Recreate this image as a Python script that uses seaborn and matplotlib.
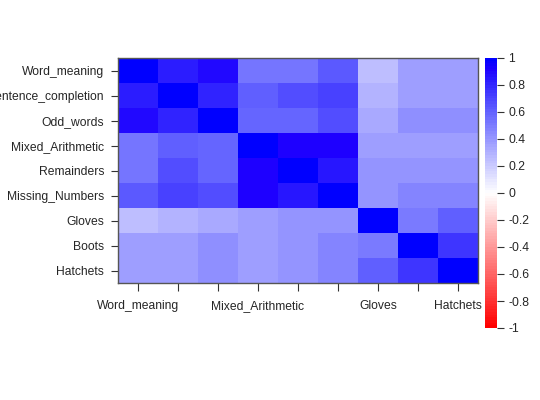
import numpy as np
import pandas as pd
import matplotlib
matplotlib.use("Agg")
import matplotlib.pyplot as plt
import matplotlib.transforms as mtransforms
import seaborn as sns
from matplotlib.colors import LinearSegmentedColormap

# variable names (rows and columns of the correlation matrix)
variables = ["Word_meaning", "Sentence_completion", "Odd_words",
             "Mixed_Arithmetic", "Remainders", "Missing_Numbers",
             "Gloves", "Boots", "Hatchets"]

# correlations, one row per variable
word_meaning        = [1.00, 0.83, 0.88, 0.53, 0.53, 0.62, 0.24, 0.37, 0.37]
sentence_completion = [0.83, 1.00, 0.80, 0.60, 0.66, 0.70, 0.28, 0.37, 0.37]
odd_words           = [0.88, 0.80, 1.00, 0.58, 0.58, 0.66, 0.33, 0.42, 0.42]
mixed_arithmetic    = [0.53, 0.60, 0.58, 1.00, 0.90, 0.90, 0.37, 0.37, 0.37]
remainders          = [0.53, 0.66, 0.58, 0.90, 1.00, 0.85, 0.41, 0.41, 0.41]
missing_numbers     = [0.62, 0.70, 0.66, 0.90, 0.85, 1.00, 0.41, 0.46, 0.47]
gloves              = [0.24, 0.28, 0.33, 0.37, 0.41, 0.41, 1.00, 0.50, 0.60]
boots               = [0.37, 0.37, 0.42, 0.37, 0.41, 0.46, 0.50, 1.00, 0.75]
hatchets            = [0.37, 0.37, 0.42, 0.37, 0.41, 0.47, 0.60, 0.75, 1.00]

# only some x labels fit in the original
xlabel_shown = ["Word_meaning", "Mixed_Arithmetic", "Gloves", "Hatchets"]
cbar_ticks = [-1, -0.8, -0.6, -0.4, -0.2, 0, 0.2, 0.4, 0.6, 0.8, 1]

corr = pd.DataFrame([word_meaning, sentence_completion, odd_words,
                     mixed_arithmetic, remainders, missing_numbers,
                     gloves, boots, hatchets],
                    index=variables, columns=variables)

# red -> white -> blue, slightly purple close to 1
cmap = LinearSegmentedColormap.from_list("rwb", [
    (0.0, (1, 0, 0)),
    (0.5, (1, 1, 1)),
    (0.8, (100/255, 100/255, 1)),
    (0.925, (40/255, 25/255, 1)),
    (0.96, (30/255, 0, 1)),
    (1.0, (0, 0, 1)),
], N=100)

sns.set_style("white")
plt.rcParams['font.family'] = ['Liberation Sans', 'DejaVu Sans']
plt.rcParams['font.size'] = 8.7

fig = plt.figure(figsize=(5.4, 4), dpi=100)
ax = fig.add_axes([118/540, 1 - 283/400, 360/540, 225/400])
cax = fig.add_axes([485/540, 1 - 328/400, 12/540, 270/400])

sns.heatmap(corr, ax=ax, cbar_ax=cax, cmap=cmap, vmin=-1, vmax=1,
            cbar_kws={"ticks": cbar_ticks})

ax.set_xticks(np.arange(len(variables)) + 0.5)
ax.set_xticklabels([])
# x labels drawn by hand so they all sit on one baseline
trans = mtransforms.blended_transform_factory(ax.transData, ax.transAxes)
for i, v in enumerate(variables):
    if v in xlabel_shown:
        ax.text(i + 0.5, -0.115, v, transform=trans, ha="center", va="baseline")
ax.set_yticks(np.arange(len(variables)) + 0.5)
ax.set_yticklabels(variables, rotation=0, va="center_baseline")
ax.tick_params(axis="x", length=6, color="#333333", direction="out", bottom=True)
ax.tick_params(axis="y", length=5, pad=5, color="#333333", direction="out", left=True)
for s in ax.spines.values():
    s.set_visible(True)
    s.set_color("#555555")
    s.set_linewidth(1)

cax.tick_params(length=5, pad=3, color="#333333", right=True)
cax.set_yticklabels(["-1", "-0.8", "-0.6", "-0.4", "-0.2", "0", "0.2", "0.4", "0.6", "0.8", "1"])
for s in cax.spines.values():
    s.set_visible(False)

fig.savefig("out.png", dpi=100)
